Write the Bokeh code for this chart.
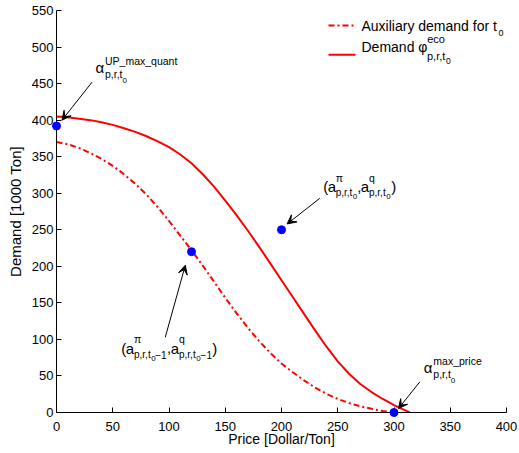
from bokeh.plotting import figure
from bokeh.models import Label, Arrow, VeeHead, Range1d, FixedTicker
from bokeh.embed import file_html
from bokeh.resources import INLINE

# ---------------- data ----------------
price_demand = [0, 10, 20, 30, 40, 50, 60, 70, 80, 90, 100, 110, 120, 130, 140, 150, 160, 170,
                180, 190, 200, 210, 220, 230, 240, 250, 260, 270, 280, 290, 300, 310, 314]
demand_eco = [405, 404, 402, 400, 397, 393.5, 389, 384, 378, 371, 363, 353, 341, 326, 309, 290,
              270, 249, 227, 204, 181, 158, 135, 112, 90, 70, 53, 39, 28, 18.5, 10, 3, 0]

price_aux = [0, 10, 20, 30, 40, 50, 60, 70, 80, 90, 100, 110, 120, 130, 140, 150, 160, 170,
             180, 190, 200, 210, 220, 230, 240, 250, 260, 270, 280, 290, 300]
demand_aux = [370, 367, 362, 355, 347, 337.5, 326, 313, 298, 281, 262, 242, 222, 201, 179, 157,
              136, 116, 98, 81.5, 67, 55, 44, 34, 25.5, 18.5, 13, 8.5, 5, 2, 0]

point_price = [0, 120, 200, 300]
point_demand = [392, 220, 250, 0]

x_ticks = [0, 50, 100, 150, 200, 250, 300, 350, 400]
y_ticks = [0, 50, 100, 150, 200, 250, 300, 350, 400, 450, 500, 550]

legend_aux = "Auxiliary demand for t"
legend_eco = "Demand \u03c6"
x_label = "Price [Dollar/Ton]"
y_label = "Demand [1000 Ton]"

# arrows: (tail x, tail y, head x, head y) in data units
arrows = [
    (31.6, 452, 4.9, 400),
    (234, 293, 205, 258),
    (96.7, 103, 114.5, 201.5),
    (323, 42, 304, 5.5),
]

# ---------------- layout ----------------
W, H = 519, 453
L, R, T, B = 56, 13, 10, 41
XMAX, YMAX = 400, 550
FONT = "Liberation Sans"


def px2x(px):
    return XMAX * (px - L) / (W - L - R)


def px2y(py):
    return YMAX * (H - B - py) / (H - T - B)


p = figure(width=W, height=H, output_backend="svg", toolbar_location=None,
           x_range=Range1d(0, XMAX), y_range=Range1d(0, YMAX),
           min_border_left=L, min_border_right=R, min_border_top=T, min_border_bottom=B,
           background_fill_color="white", border_fill_color="white")
p.outline_line_color = None
p.grid.visible = False

for ax in (p.xaxis[0], p.yaxis[0]):
    ax.axis_line_color = "black"
    ax.axis_line_width = 1
    ax.major_tick_line_color = "black"
    ax.major_tick_in = 5
    ax.major_tick_out = 0
    ax.minor_tick_line_color = None
    ax.major_label_text_font = FONT
    ax.major_label_text_font_size = "13px"
    ax.major_label_text_color = "black"
    ax.axis_label_text_font = FONT
    ax.axis_label_text_font_style = "normal"
    ax.axis_label_text_color = "black"

p.xaxis.ticker = FixedTicker(ticks=x_ticks)
p.yaxis.ticker = FixedTicker(ticks=y_ticks)
p.xaxis.axis_label = x_label
p.yaxis.axis_label = y_label
p.xaxis.axis_label_text_font_size = "14px"
p.yaxis.axis_label_text_font_size = "15px"
p.xaxis.major_label_standoff = 9
p.xaxis.axis_label_standoff = -3
p.yaxis.major_label_standoff = 3
p.yaxis.axis_label_standoff = 5

DASHDOT = "6 3 2 3"

# curves
p.line(price_aux, demand_aux, line_color="#FF0000", line_width=2, line_dash=DASHDOT)
p.line(price_demand, demand_eco, line_color="#FF0000", line_width=2)

# arrows
for (x0, y0, x1, y1) in arrows:
    p.add_layout(Arrow(x_start=x0, y_start=y0, x_end=x1, y_end=y1,
                       line_color="black", line_width=1,
                       end=VeeHead(size=9, fill_color="black", line_color="black", line_width=1)))

# points (unclipped, on top)
p.scatter(point_price, point_demand, size=8, fill_color="#0000FF", line_color="#0000FF",
          level="overlay")


def rich(px, py, runs):
    x0, y0 = px2x(px), px2y(py)
    for text, dx, dy, size in runs:
        p.add_layout(Label(x=x0, y=y0, x_offset=dx, y_offset=dy, text=text,
                           text_font=FONT, text_font_size=f"{size}px",
                           text_baseline="alphabetic", text_align="left",
                           text_color="black"))


# annotation texts
rich(95, 66.7, [("\u03b1", 0, 0, 15), ("UP_max_quant", 9.5, 6.5, 10.5),
                ("p,r,t", 9.5, -6.6, 10.5), ("0", 27, -13, 8)])
rich(423.3, 366.7, [("\u03b1", 0, 0, 15), ("max_price", 9.5, 6.5, 10.5),
                    ("p,r,t", 9.5, -6.6, 10.5), ("0", 27, -13, 8)])
rich(322.7, 186, [("(", 0, 0, 15), ("a", 4.5, 0, 15), ("\u03c0", 12.5, 8.7, 10.5),
                  ("p,r,t", 12.5, -6.3, 10), ("0", 29.5, -10, 8), (",", 34, 0, 15),
                  ("a", 37.5, 0, 15), ("q", 45.8, 8.7, 10.5), ("p,r,t", 45.8, -6.3, 10),
                  ("0", 63, -10, 8), (")", 68, 0, 15)])
rich(120.7, 347.5, [("(", 0, 0, 15), ("a", 4.5, 0, 15), ("\u03c0", 12.8, 9, 10.5),
                    ("p,r,t", 12.8, -6.5, 10), ("0", 30, -10.5, 8), ("\u22121", 34, -6.5, 10),
                    (",", 45.8, 0, 15), ("a", 49.5, 0, 15), ("q", 57.8, 9, 10.5),
                    ("p,r,t", 57.8, -6.5, 10), ("0", 75, -10.5, 8), ("\u22121", 79.4, -6.5, 10),
                    (")", 91, 0, 15)])

# legend (no box)
p.line([px2x(328), px2x(355)], [px2y(25), px2y(25)], line_color="#FF0000", line_width=2,
       line_dash=DASHDOT)
p.line([px2x(328), px2x(355)], [px2y(54.3), px2y(54.3)], line_color="#FF0000", line_width=2)
rich(361, 25, [(legend_aux, 0, 0, 14), ("0", 137, -7.7, 9)])
rich(361, 46.7, [(legend_eco, 0, 0, 14), ("eco", 65.7, 8.4, 11), ("p,r,t", 65.5, -8.3, 11),
                 ("0", 84.5, -14, 8.5)])

open("out.html", "w").write(file_html(p, INLINE))
